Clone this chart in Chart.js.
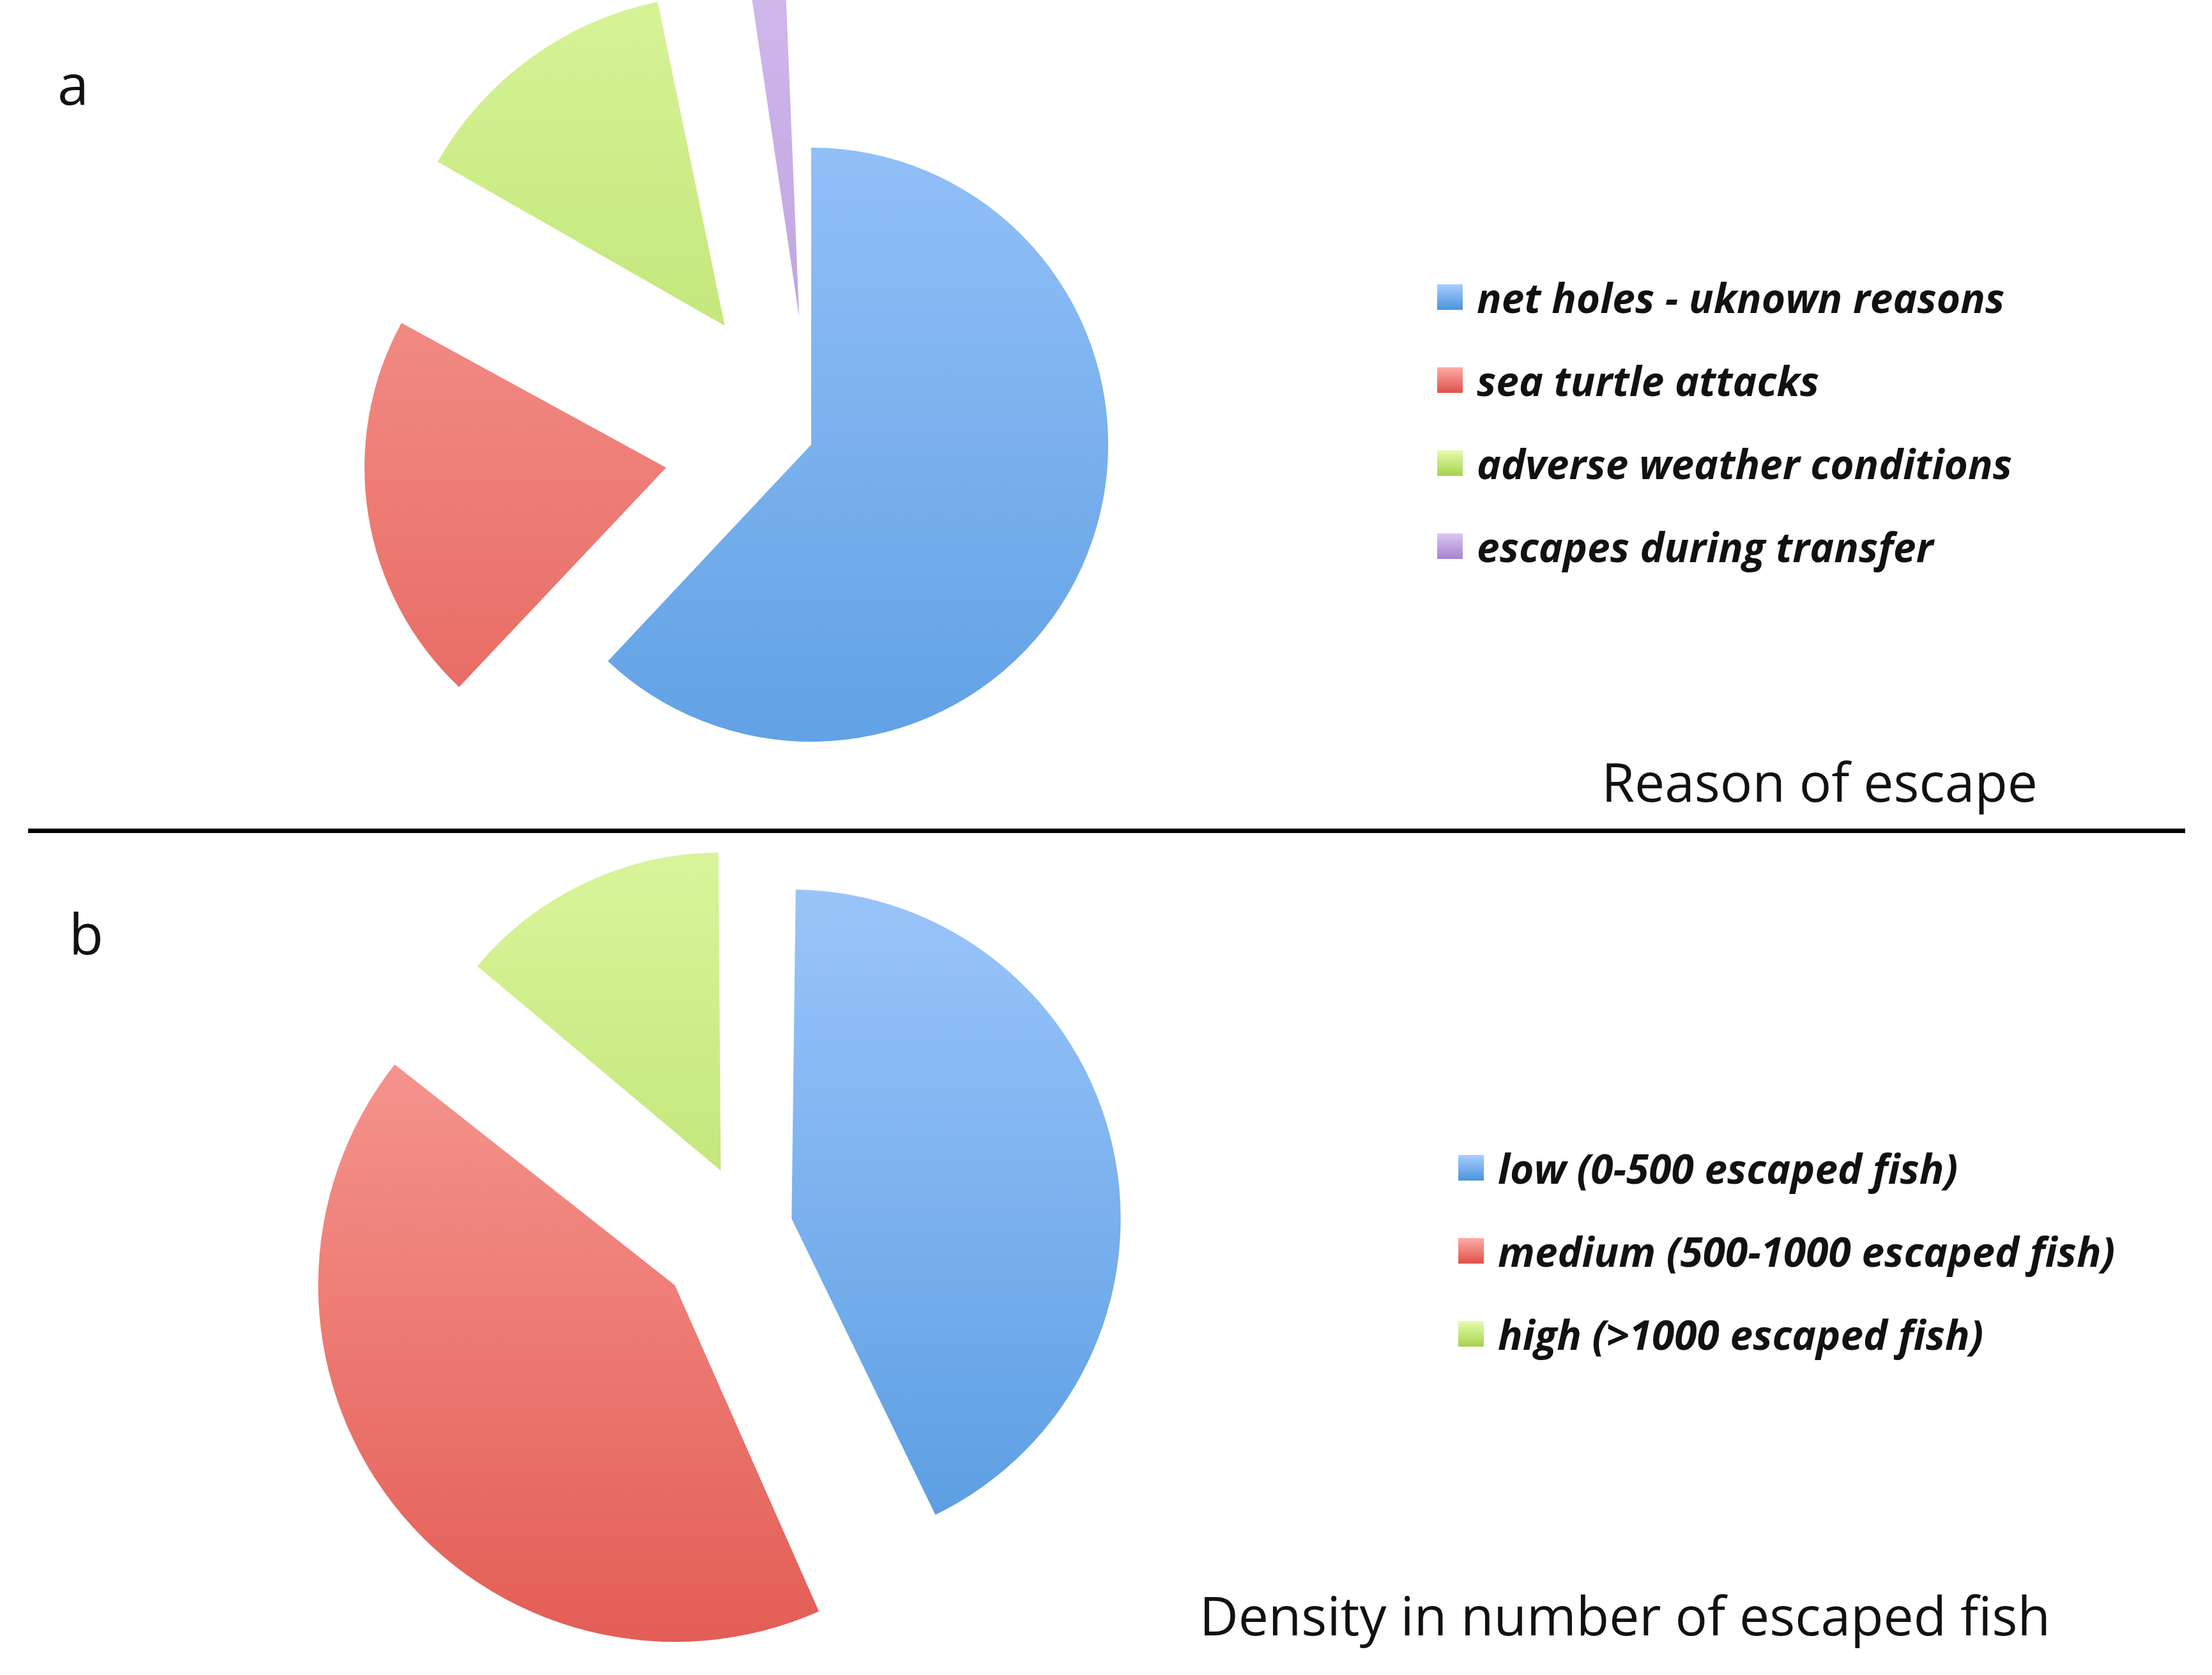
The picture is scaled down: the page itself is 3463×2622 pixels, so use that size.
<!DOCTYPE html>
<html>
<head>
<meta charset="utf-8">
<script src="https://cdn.jsdelivr.net/npm/chart.js@4"></script>
<style>
  body { margin: 0; width: 3463px; height: 2622px; background: #fff; position: relative; overflow: hidden; font-family: "Open Sans", sans-serif; }
  .abs { position: absolute; }
  .panel { font-size: 88px; color: #111; }
  .title { font-size: 84px; color: #111; text-align: right; }
  .legend { font-family: "Open Sans", sans-serif; font-style: italic; font-weight: 700; font-size: 64px; color: #111; }
  .legend div { height: 130px; display: flex; align-items: center; }
  .legend span.sw { display: inline-block; width: 40px; height: 40px; margin-right: 22px; }
</style>
</head>
<body>
<div class="abs panel" style="left:90px;top:70px;">a</div>
<div class="abs panel" style="left:108px;top:1400px;">b</div>
<div class="abs title" style="right:273px;top:1165px;">Reason of escape</div>
<div class="abs title" style="right:253px;top:2470px;">Density in number of escaped fish</div>
<div class="abs" style="left:44px;top:1297px;width:3377px;height:7px;background:#000;"></div>

<canvas id="pieA" class="abs" style="left:345px;top:-229px;" width="1850" height="1850"></canvas>
<canvas id="pieB" class="abs" style="left:406px;top:1158px;" width="1530" height="1530"></canvas>
<div id="legendA" class="abs legend" style="left:2250px;top:400px;"></div>
<div id="legendB" class="abs legend" style="left:2283px;top:1763px;"></div>

<script>
const reasonLabels = ["net holes - uknown reasons", "sea turtle attacks", "adverse weather conditions", "escapes during transfer"];
const reasonValues = [62, 21, 14, 3];
const densityLabels = ["low (0-500 escaped fish)", "medium (500-1000 escaped fish)", "high (>1000 escaped fish)"];
const densityValues = [43, 43, 14];

// light (top) and dark (bottom) colours
const tones = [
  ["#a9ceff", "#4a93dc"],
  ["#fcaca6", "#df5149"],
  ["#e4fcab", "#a6d24e"],
  ["#dcc6f2", "#a583cf"],
];

function grad(ctx) {
  const chart = ctx.chart;
  const area = chart.chartArea;
  const t = tones[ctx.dataIndex];
  if (!area) return t[1];
  const g = chart.ctx.createLinearGradient(0, area.top, 0, area.bottom);
  g.addColorStop(0, t[0]);
  g.addColorStop(1, t[1]);
  return g;
}

function makePie(id, values, offsets) {
  new Chart(document.getElementById(id), {
    type: "pie",
    data: {
      datasets: [{ data: values, backgroundColor: grad, borderWidth: 0, offset: offsets }],
    },
    options: {
      responsive: false,
      animation: false,
      plugins: { legend: { display: false }, tooltip: { enabled: false } },
    },
  });
}

function makeLegend(id, labels) {
  const el = document.getElementById(id);
  labels.forEach((l, i) => {
    const row = document.createElement("div");
    row.innerHTML = `<span class="sw" style="background:linear-gradient(${tones[i][0]},${tones[i][1]})"></span>${l}`;
    el.appendChild(row);
  });
}

makePie("pieA", reasonValues, [0, 920, 920, 800]);
makePie("pieB", densityValues, [280, 580, 400]);
makeLegend("legendA", reasonLabels);
makeLegend("legendB", densityLabels);
</script>
</body>
</html>
